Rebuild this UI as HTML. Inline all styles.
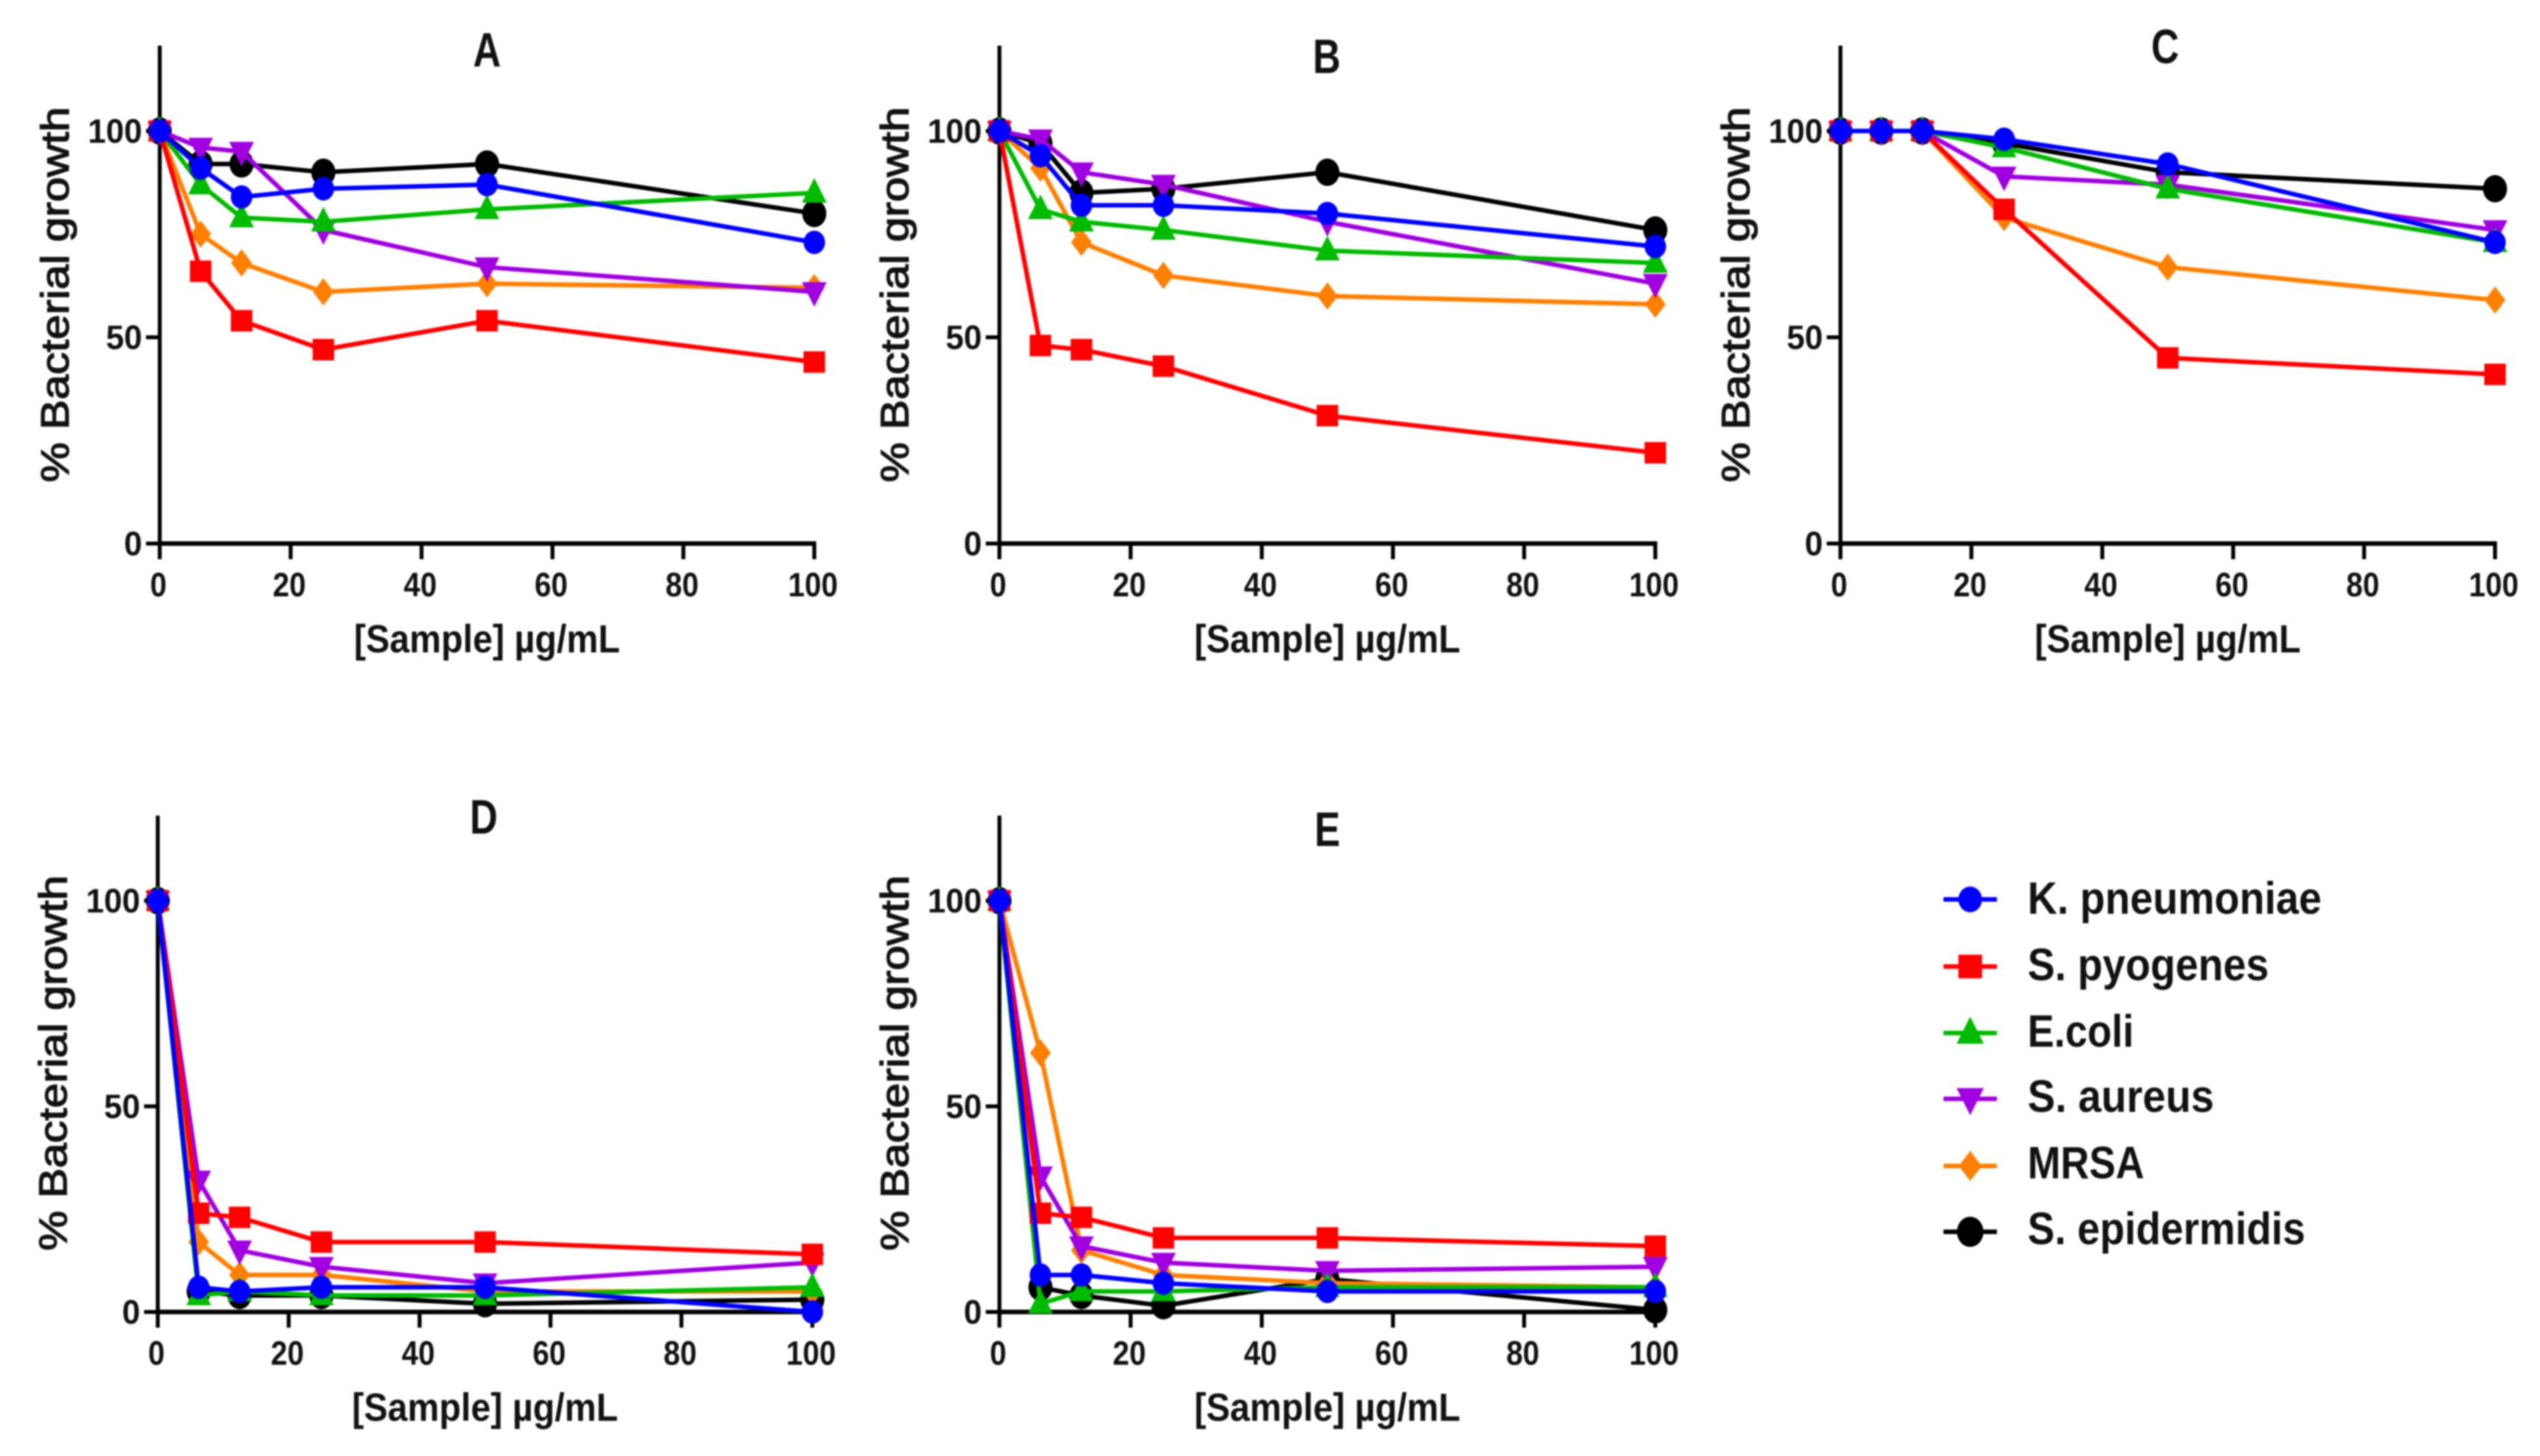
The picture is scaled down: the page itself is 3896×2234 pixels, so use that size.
<!DOCTYPE html>
<html lang="en">
<head>
<meta charset="utf-8">
<title>Bacterial growth vs sample concentration</title>
<style>
  html, body { margin: 0; padding: 0; background: #fff; }
  #figure { display: block; width: 3896px; height: 2234px; filter: blur(1.3px); }
  text { font-family: "Liberation Sans", Arial, sans-serif; fill: #111; }
</style>
</head>
<body>
<svg id="figure" xmlns="http://www.w3.org/2000/svg" width="3896" height="2234" viewBox="0 0 3896 2234"></svg>
<script>
// Shared axis data
const concentrations = [0, 6.25, 12.5, 25, 50, 100];
const xTickValues = [0, 20, 40, 60, 80, 100];
const yTickValues = [0, 50, 100];
const xAxisTitle = "[Sample] µg/mL";
const yAxisTitle = "% Bacterial growth";
const seriesNames = ["K. pneumoniae", "S. pyogenes", "E.coli", "S. aureus", "MRSA", "S. epidermidis"];

// Panel A
const panelA_kPneumoniae = [100, 91, 84, 86, 87, 73];
const panelA_sPyogenes = [100, 66, 54, 47, 54, 44];
const panelA_eColi = [100, 87, 79, 78, 81, 85];
const panelA_sAureus = [100, 96, 95, 76, 67, 61];
const panelA_mrsa = [100, 75, 68, 61, 63, 62];
const panelA_sEpidermidis = [100, 92, 92, 90, 92, 80];

// Panel B
const panelB_kPneumoniae = [100, 94, 82, 82, 80, 72];
const panelB_sPyogenes = [100, 48, 47, 43, 31, 22];
const panelB_eColi = [100, 81, 78, 76, 71, 68];
const panelB_sAureus = [100, 98, 90, 87, 78, 63];
const panelB_mrsa = [100, 91, 73, 65, 60, 58];
const panelB_sEpidermidis = [100, 97, 85, 86, 90, 76];

// Panel C
const panelC_kPneumoniae = [100, 100, 100, 98, 92, 73];
const panelC_sPyogenes = [100, 100, 100, 81, 45, 41];
const panelC_eColi = [100, 100, 100, 96, 86, 73];
const panelC_sAureus = [100, 100, 100, 89, 87, 76];
const panelC_mrsa = [100, 100, 100, 79, 67, 59];
const panelC_sEpidermidis = [100, 100, 100, 97, 90, 86];

// Panel D
const panelD_kPneumoniae = [100, 6, 5, 6, 6, 0];
const panelD_sPyogenes = [100, 24, 23, 17, 17, 14];
const panelD_eColi = [100, 4, 5, 4, 4, 6];
const panelD_sAureus = [100, 32, 15, 11, 7, 12];
const panelD_mrsa = [100, 17, 9, 9, 5, 5];
const panelD_sEpidermidis = [100, 5, 4, 4, 2, 3];

// Panel E
const panelE_kPneumoniae = [100, 9, 9, 7, 5, 5];
const panelE_sPyogenes = [100, 24, 23, 18, 18, 16];
const panelE_eColi = [100, 2, 5, 5, 6, 6];
const panelE_sAureus = [100, 33, 16, 12, 10, 11];
const panelE_mrsa = [100, 63, 15, 9, 7, 6];
const panelE_sEpidermidis = [100, 6, 4, 1.5, 8, 0.5];

const panelASeries = [panelA_kPneumoniae, panelA_sPyogenes, panelA_eColi, panelA_sAureus, panelA_mrsa, panelA_sEpidermidis];
const panelBSeries = [panelB_kPneumoniae, panelB_sPyogenes, panelB_eColi, panelB_sAureus, panelB_mrsa, panelB_sEpidermidis];
const panelCSeries = [panelC_kPneumoniae, panelC_sPyogenes, panelC_eColi, panelC_sAureus, panelC_mrsa, panelC_sEpidermidis];
const panelDSeries = [panelD_kPneumoniae, panelD_sPyogenes, panelD_eColi, panelD_sAureus, panelD_mrsa, panelD_sEpidermidis];
const panelESeries = [panelE_kPneumoniae, panelE_sPyogenes, panelE_eColi, panelE_sAureus, panelE_mrsa, panelE_sEpidermidis];

// Styling and layout (not data)
const seriesColors = ["#0000ff", "#ff0000", "#00bb00", "#a000e0", "#ff8000", "#000000"];
const seriesMarkers = ["circle", "square", "triangle", "invtriangle", "diamond", "bigcircle"];
const panelLayouts = [
  { id: "a", letter: "A", series: panelASeries, x0: 245, x100: 1249, y0: 834, y100: 201, titleX: 747, titleY: 102 },
  { id: "b", letter: "B", series: panelBSeries, x0: 1533, x100: 2539, y0: 834, y100: 201, titleX: 2035, titleY: 112 },
  { id: "c", letter: "C", series: panelCSeries, x0: 2823, x100: 3827, y0: 834, y100: 201, titleX: 3321, titleY: 97 },
  { id: "d", letter: "D", series: panelDSeries, x0: 242, x100: 1246, y0: 2013, y100: 1382, titleX: 742, titleY: 1279 },
  { id: "e", letter: "E", series: panelESeries, x0: 1533, x100: 2539, y0: 2013, y100: 1382, titleX: 2036, titleY: 1298 }
];
const legendLayout = {
  lineX1: 2981, lineX2: 3063, markerX: 3022, textX: 3110,
  rowY: [1380, 1483, 1585, 1686, 1789, 1890],
  baseY: [1402, 1504, 1606, 1706, 1808, 1909],
  widths: [451, 370, 163, 286, 179, 426]
};

const SVG_NS = "http://www.w3.org/2000/svg";
const root = document.getElementById("figure");

function make(tag, attrs, parent) {
  const el = document.createElementNS(SVG_NS, tag);
  for (const k in attrs) el.setAttribute(k, attrs[k]);
  parent.appendChild(el);
  return el;
}

function slug(s) {
  return s.toLowerCase().replace(/[^a-z]+/g, "-").replace(/-$/, "");
}

function drawMarker(parent, kind, cx, cy, color, k) {
  let el;
  if (kind === "circle") {
    el = make("ellipse", { cx: cx, cy: cy, rx: 16.5 * k, ry: 18 * k, fill: color }, parent);
  } else if (kind === "bigcircle") {
    el = make("ellipse", { cx: cx, cy: cy, rx: 18.5 * k, ry: 21 * k, fill: color }, parent);
  } else if (kind === "square") {
    el = make("rect", { x: cx - 16.5 * k, y: cy - 16.5 * k, width: 33 * k, height: 33 * k, fill: color }, parent);
  } else if (kind === "triangle") {
    el = make("polygon", { points: [cx, cy - 23 * k, cx + 19 * k, cy + 15 * k, cx - 19 * k, cy + 15 * k].join(" "), fill: color }, parent);
  } else if (kind === "invtriangle") {
    el = make("polygon", { points: [cx, cy + 23 * k, cx + 19 * k, cy - 15 * k, cx - 19 * k, cy - 15 * k].join(" "), fill: color }, parent);
  } else {
    el = make("polygon", { points: [cx, cy - 21 * k, cx + 16 * k, cy, cx, cy + 21 * k, cx - 16 * k, cy].join(" "), fill: color }, parent);
  }
  return el;
}

function drawPanel(p) {
  const xScale = function (v) { return p.x0 + v * (p.x100 - p.x0) / 100; };
  const yScale = function (v) { return p.y0 - v * (p.y0 - p.y100) / 100; };

  const g = make("g", {}, root);
  
  

  const title = make("text", {
    x: 0, y: 0, "text-anchor": "middle", "font-size": 74, "font-weight": "bold",
    transform: "translate(" + p.titleX + " " + p.titleY + ") scale(0.8 1)"
  }, g);
  title.textContent = p.letter;
  
  

  // Y axis line
  const yAxis = make("line", { x1: p.x0, x2: p.x0, y1: yScale(120.7), y2: p.y0 + 4, stroke: "#000", "stroke-width": 6 }, g);
  
  

  // X axis line
  const xAxis = make("line", { x1: p.x0 - 3, x2: p.x100 + 3, y1: p.y0, y2: p.y0, stroke: "#000", "stroke-width": 7 }, g);
  
  

  yTickValues.forEach(function (t) {
    const tick = make("line", { x1: p.x0 - 21, x2: p.x0, y1: yScale(t), y2: yScale(t), stroke: "#000", "stroke-width": 6 }, g);
    
    
    const label = make("text", {
      x: 0, y: 0, "text-anchor": "end", "font-size": 52, "font-weight": "bold",
      transform: "translate(" + (p.x0 - 27) + " " + (yScale(t) + 18) + ") scale(0.96 1)"
    }, g);
    label.textContent = t;
    
    
  });

  xTickValues.forEach(function (t) {
    const tick = make("line", { x1: xScale(t), x2: xScale(t), y1: p.y0, y2: p.y0 + 24, stroke: "#000", "stroke-width": 6 }, g);
    
    
    const label = make("text", {
      x: 0, y: 0, "text-anchor": "middle", "font-size": 52, "font-weight": "bold",
      transform: "translate(" + (xScale(t) - 2) + " " + (p.y0 + 81) + ") scale(0.88 1)"
    }, g);
    label.textContent = t;
    
    
  });

  const yTitle = make("text", {
    x: 0, y: 0, "text-anchor": "middle", "font-size": 60,
    textLength: 576, lengthAdjust: "spacingAndGlyphs",
    stroke: "#111", "stroke-width": 1.6,
    transform: "translate(" + (p.x0 - 140) + " " + (p.y0 - 382) + ") rotate(-90)"
  }, g);
  yTitle.textContent = yAxisTitle;
  
  

  const xTitle = make("text", {
    x: (p.x0 + p.x100) / 2, y: p.y0 + 167, "text-anchor": "middle", "font-size": 60, "font-weight": "bold",
    textLength: 408, lengthAdjust: "spacingAndGlyphs"
  }, g);
  xTitle.textContent = xAxisTitle;
  
  

  // Series drawn last-to-first so K. pneumoniae sits on top, as in the source graph
  for (let s = seriesNames.length - 1; s >= 0; s--) {
    const values = p.series[s];
    const sg = make("g", {}, g);
    
    
    const pts = values.map(function (v, i) { return xScale(concentrations[i]) + "," + yScale(v); }).join(" ");
    const line = make("polyline", { points: pts, fill: "none", stroke: seriesColors[s], "stroke-width": 7, "stroke-linejoin": "round" }, sg);
    
    
    values.forEach(function (v, i) {
      const m = drawMarker(sg, seriesMarkers[s], xScale(concentrations[i]), yScale(v), seriesColors[s], 1);
      
      
    });
  }
}

panelLayouts.forEach(drawPanel);

// Legend
const legend = make("g", {}, root);


seriesNames.forEach(function (name, i) {
  const entry = make("g", {}, legend);
  
  
  const y = legendLayout.rowY[i];
  const ln = make("line", { x1: legendLayout.lineX1, x2: legendLayout.lineX2, y1: y, y2: y, stroke: seriesColors[i], "stroke-width": 7 }, entry);
  
  
  const mk = drawMarker(entry, seriesMarkers[i], legendLayout.markerX, y, seriesColors[i], 1.1);
  
  
  const label = make("text", {
    x: legendLayout.textX, y: legendLayout.baseY[i], "font-size": 70, "font-weight": "bold",
    textLength: legendLayout.widths[i], lengthAdjust: "spacingAndGlyphs"
  }, entry);
  label.textContent = name;
  
  
});
</script>
</body>
</html>
